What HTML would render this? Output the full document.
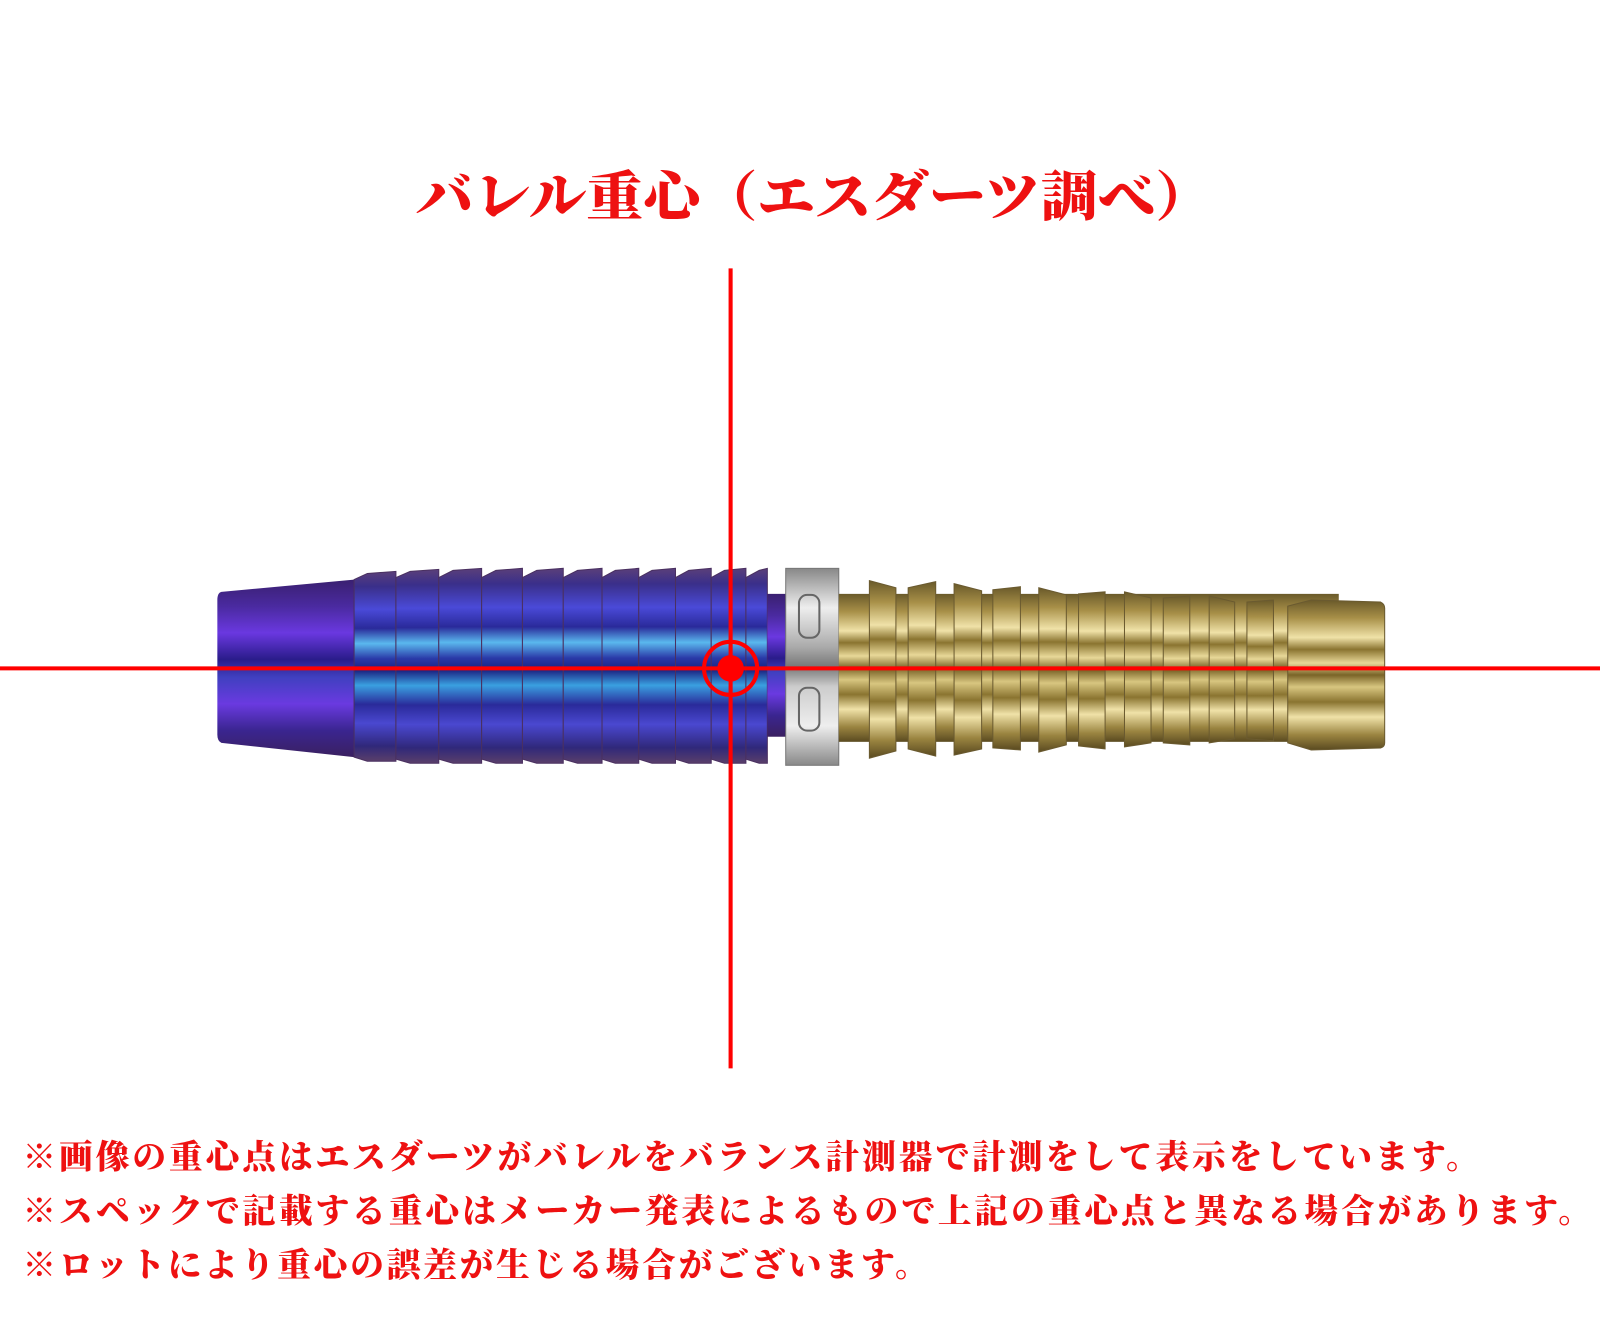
<!DOCTYPE html>
<html><head><meta charset="utf-8"><style>html,body{margin:0;padding:0;background:#fff;}svg{display:block}</style></head><body>
<svg width="1600" height="1333" viewBox="0 0 1600 1333" xmlns="http://www.w3.org/2000/svg">
<defs>
<linearGradient id="blue" x1="0" y1="0" x2="0" y2="1">
<stop offset="0" stop-color="#5a3f7a"/><stop offset="0.08" stop-color="#3a2f8a"/>
<stop offset="0.2" stop-color="#4a4ad8"/><stop offset="0.3" stop-color="#2a2a9a"/>
<stop offset="0.38" stop-color="#5ab8ee"/><stop offset="0.46" stop-color="#2a3aa8"/>
<stop offset="0.52" stop-color="#1a2080"/><stop offset="0.6" stop-color="#3aa0e0"/>
<stop offset="0.7" stop-color="#2a2a9a"/><stop offset="0.8" stop-color="#4a48d0"/>
<stop offset="0.92" stop-color="#30287a"/><stop offset="1" stop-color="#5a3f6a"/>
</linearGradient>
<linearGradient id="cone" x1="0" y1="0" x2="0" y2="1">
<stop offset="0" stop-color="#3a2070"/><stop offset="0.15" stop-color="#4a2aa0"/>
<stop offset="0.3" stop-color="#6a38e0"/><stop offset="0.45" stop-color="#2a1c8a"/>
<stop offset="0.55" stop-color="#4040c0"/><stop offset="0.7" stop-color="#6a3ae0"/>
<stop offset="0.85" stop-color="#3a2590"/><stop offset="1" stop-color="#3a2060"/>
</linearGradient>
<linearGradient id="gold" x1="0" y1="0" x2="0" y2="1">
<stop offset="0" stop-color="#6a5a2a"/><stop offset="0.12" stop-color="#a89048"/>
<stop offset="0.25" stop-color="#f0e2a8"/><stop offset="0.33" stop-color="#8a7430"/>
<stop offset="0.42" stop-color="#e8d898"/><stop offset="0.5" stop-color="#7a6428"/>
<stop offset="0.58" stop-color="#d8c680"/><stop offset="0.68" stop-color="#8a7430"/>
<stop offset="0.78" stop-color="#f0e2a8"/><stop offset="0.9" stop-color="#9a8440"/>
<stop offset="1" stop-color="#5a4a20"/>
</linearGradient>
<linearGradient id="silver" x1="0" y1="0" x2="0" y2="1">
<stop offset="0" stop-color="#888"/><stop offset="0.2" stop-color="#eee"/>
<stop offset="0.4" stop-color="#aaa"/><stop offset="0.5" stop-color="#777"/>
<stop offset="0.6" stop-color="#ccc"/><stop offset="0.8" stop-color="#eee"/><stop offset="1" stop-color="#888"/>
</linearGradient>
</defs>
<g transform="scale(1.0204)">
<text x="408" y="211" textLength="780" lengthAdjust="spacingAndGlyphs" font-family="'Liberation Serif','Noto Serif CJK JP',serif" font-weight="900" font-size="53" fill="#ee1111">バレル重心（エスダーツ調べ）</text>

<path d="M217,580 L347,568 L347,742 L217,728 Q213,726 213,720 L213,588 Q213,581 217,580Z" fill="url(#cone)"/>
<g fill="url(#blue)" stroke="#4a3060" stroke-width="1">
<path d="M347,568 L360,562 L388,560 L388,746 L360,746 L347,742Z"/>
<path d="M388,566 L402,560 L430,558 L430,748 L402,748 L388,744Z"/>
<path d="M430,566 L444,559 L472,557 L472,748 L444,748 L430,744Z"/>
<path d="M472,566 L486,559 L512,557 L512,748 L486,748 L472,744Z"/>
<path d="M512,566 L526,559 L552,557 L552,748 L526,748 L512,744Z"/>
<path d="M552,566 L566,559 L590,557 L590,748 L566,748 L552,744Z"/>
<path d="M590,566 L603,559 L626,557 L626,748 L603,748 L590,744Z"/>
<path d="M626,566 L639,559 L662,557 L662,748 L639,748 L626,744Z"/>
<path d="M662,566 L675,559 L697,557 L697,748 L675,748 L662,744Z"/>
<path d="M697,566 L710,559 L731,557 L731,748 L710,748 L697,744Z"/>
<path d="M731,566 L744,559 L752,557 L752,748 L744,748 L731,744Z"/>
</g>
<rect x="752" y="582" width="20" height="140" fill="url(#cone)"/>
<rect x="770" y="557" width="52" height="193" fill="url(#silver)" stroke="#777" stroke-width="1"/>
<rect x="783" y="583" width="20" height="42" rx="8" fill="none" stroke="#666" stroke-width="2"/>
<rect x="783" y="674" width="20" height="42" rx="8" fill="none" stroke="#666" stroke-width="2"/>
<rect x="822" y="582" width="490" height="145" fill="url(#gold)"/>
<g fill="url(#gold)" stroke="#6a5a30" stroke-width="1">
<path d="M852,569 L878,576 L878,736 L852,743Z"/>
<path d="M890,576 L917,570 L917,741 L890,734Z"/>
<path d="M935,572 L962,579 L962,734 L935,740Z"/>
<path d="M973,578 L1000,575 L1000,735 L973,733Z"/>
<path d="M1018,576 L1045,583 L1045,730 L1018,737Z"/>
<path d="M1057,582 L1083,580 L1083,734 L1057,731Z"/>
<path d="M1102,580 L1128,586 L1128,728 L1102,732Z"/>
<path d="M1140,586 L1166,584 L1166,730 L1140,728Z"/>
<path d="M1185,584 L1210,590 L1210,724 L1185,728Z"/>
<path d="M1222,590 L1248,588 L1248,726 L1222,724Z"/>
<path d="M1262,594 L1285,588 L1353,590 Q1357,592 1357,596 L1357,728 Q1357,732 1353,733 L1285,735 L1262,728Z"/>
</g>

<line x1="716" y1="263" x2="716" y2="1047" stroke="#ff0000" stroke-width="4"/>
<line x1="0" y1="655" x2="1600" y2="655" stroke="#ff0000" stroke-width="4"/>
<circle cx="716" cy="655" r="26" fill="none" stroke="#ff0000" stroke-width="4"/>
<circle cx="716" cy="655" r="13" fill="#ff0000"/>

<g font-family="'Liberation Serif','Noto Serif CJK JP',serif" font-weight="900" font-size="33" fill="#ee1111">
<text x="22" y="1145" textLength="1428" lengthAdjust="spacing">※画像の重心点はエスダーツがバレルをバランス計測器で計測をして表示をしています。</text>
<text x="22" y="1198" textLength="1538" lengthAdjust="spacing">※スペックで記載する重心はメーカー発表によるもので上記の重心点と異なる場合があります。</text>
<text x="22" y="1251" textLength="888" lengthAdjust="spacing">※ロットにより重心の誤差が生じる場合がございます。</text>
</g>
</g>
</svg>
</body></html>
